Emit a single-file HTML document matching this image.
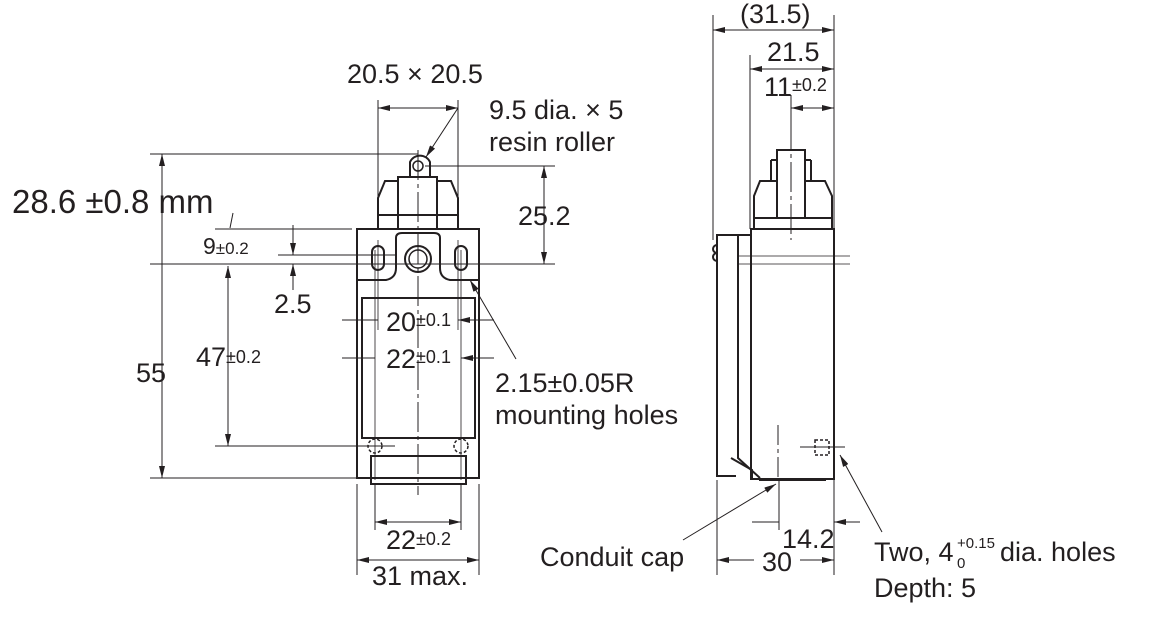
<!DOCTYPE html>
<html><head><meta charset="utf-8"><style>
html,body{margin:0;padding:0;background:#fff;}
svg{display:block;font-family:"Liberation Sans",Arial,sans-serif;}
text{fill:#231f20;}
</style></head><body>
<svg width="1153" height="629" viewBox="0 0 1153 629" xmlns="http://www.w3.org/2000/svg">
<defs>
<marker id="a" viewBox="0 0 12 6" refX="12" refY="3" markerWidth="12" markerHeight="6" orient="auto-start-reverse" markerUnits="userSpaceOnUse"><path d="M0,0L12,3L0,6z" fill="#231f20"/></marker>
</defs>
<g stroke="#231f20" stroke-width="1" fill="none">
<g stroke-width="2">
<rect x="357" y="229" width="122" height="249"/>
<rect x="362" y="298" width="113" height="140"/>
<path d="M371,478 V456 H466 V478"/>
<path d="M371,478 V484 H466 V478"/>
<path d="M378,229 V198 L385,181 H398 V177 H437 V181 H451 L458,198 V229"/>
<path d="M398,181 V229 M437,181 V229"/>
<path d="M378,215 H458"/>
<path d="M410,177 V162 A11,11 0 0 1 430,162 V177"/>
<path d="M357,280 H386 Q396,278 396,268 V238 Q396,233 402,233 H434 Q440,233 440,238 V268 Q440,278 450,280 H479"/>
<path d="M372,252 a6,6 0 0 1 12,0 v12 a6,6 0 0 1 -12,0z"/>
<path d="M455,252 a6,6 0 0 1 12,0 v12 a6,6 0 0 1 -12,0z"/>
</g>
<circle cx="418" cy="259" r="13" stroke-width="2"/>
<circle cx="418" cy="259" r="9" stroke-width="1.5"/>
<circle cx="418" cy="166" r="5" stroke-width="1.5"/>
<circle cx="375" cy="446" r="7" stroke-dasharray="3,2" stroke-width="1.5"/>
<circle cx="461" cy="446" r="7" stroke-dasharray="3,2" stroke-width="1.5"/>
<path d="M418,150 V495" stroke-dasharray="30,4,4,4"/>
<path d="M375,250 V480 M461,250 V480 M378,240 V330 M458,240 V330" stroke-width="0.8"/>
<path d="M150,154 H418 M150,264 H555 M150,478 H357 M425,166 H555 M215,229 H352 M278,255 H395 M215,446 H395"/>
<path d="M378,100 V200 M458,100 V200"/>
<path d="M357,484 V575 M479,484 V575 M375,484 V530 M461,484 V530"/>
<path d="M162,154 V264 M162,264 V478" marker-start="url(#a)" marker-end="url(#a)"/>
<path d="M544,166 V264" marker-start="url(#a)" marker-end="url(#a)"/>
<path d="M228,266 V446" marker-start="url(#a)" marker-end="url(#a)"/>
<path d="M293,225 V255" marker-end="url(#a)"/>
<path d="M293,290 V264" marker-end="url(#a)"/>
<path d="M378,108 H458" marker-start="url(#a)" marker-end="url(#a)"/>
<path d="M342,320 H378 M494,320 H458" marker-end="url(#a)"/>
<path d="M342,358 H375 M494,358 H461" marker-end="url(#a)"/>
<path d="M375,522 H461" marker-start="url(#a)" marker-end="url(#a)"/>
<path d="M357,560 H479" marker-start="url(#a)" marker-end="url(#a)"/>
<path d="M458,108 L426,157" marker-end="url(#a)"/>
<path d="M516,359 L470,280" marker-end="url(#a)"/>
<path d="M233,213 L230,228"/>
<g stroke-width="2">
<rect x="751" y="229" width="83" height="250"/>
<path d="M754,229 V196 L760,181 H777 V150 H805 V181 H825 L832,196 V229"/>
<path d="M754,218 H832 M777,181 V218 M805,181 V218"/>
<path d="M771,160 H777 M805,160 H811 M771,160 V181 M811,160 V181"/>
<path d="M751,235 H717 V476 L736,476 M738,235 V458 L760,478"/>
<path d="M731,458 L752,470 V478"/>
<path d="M759,480 H826"/>
<path d="M717,245 a4,4 0 0 0 0,8 a4,4 0 0 0 0,8"/>
<rect x="815" y="440" width="14" height="15" stroke-dasharray="3,2" stroke-width="1.5"/>
</g>
<path d="M791,120 V240" stroke-dasharray="30,4,4,4"/>
<path d="M778,425 V480" stroke-dasharray="20,4,4,4"/>
<path d="M738,256 H850 M738,264 H850" stroke-width="0.8"/>
<path d="M800,447 H845"/>
<path d="M713,15 V240 M750,55 V229 M834,15 V240 M791,95 V150"/>
<path d="M717,480 V575 M834,480 V575 M779,480 V530"/>
<path d="M713,30 H834" marker-start="url(#a)" marker-end="url(#a)"/>
<path d="M750,69 H834" marker-start="url(#a)" marker-end="url(#a)"/>
<path d="M791,108 H834" marker-start="url(#a)" marker-end="url(#a)"/>
<path d="M752,522 H779 M860,522 H834" marker-end="url(#a)"/>
<path d="M717,560 H754" marker-start="url(#a)"/>
<path d="M834,560 H800" marker-start="url(#a)"/>
<path d="M683,540 L776,484" marker-end="url(#a)"/>
<path d="M882,532 L840,455" marker-end="url(#a)"/>
</g>
<g font-size="27">
<text x="347" y="83">20.5 × 20.5</text>
<text x="489" y="119">9.5 dia. × 5</text>
<text x="489" y="151">resin roller</text>
<text x="12" y="213" font-size="33">28.6 ±0.8 mm</text>
<text x="518" y="225">25.2</text>
<text x="203" y="254" font-size="23">9<tspan font-size="17">±0.2</tspan></text>
<text x="274" y="313">2.5</text>
<text x="386" y="331">20<tspan font-size="18" dy="-5">±0.1</tspan></text>
<text x="386" y="368">22<tspan font-size="18" dy="-5">±0.1</tspan></text>
<text x="136" y="382">55</text>
<text x="196" y="366">47<tspan font-size="18" dy="-3">±0.2</tspan></text>
<text x="495" y="392">2.15±0.05R</text>
<text x="495" y="424">mounting holes</text>
<text x="386" y="549">22<tspan font-size="18" dy="-4">±0.2</tspan></text>
<text x="372" y="585">31 max.</text>
<text x="740" y="23">(31.5)</text>
<text x="767" y="61">21.5</text>
<text x="764" y="96">11<tspan font-size="18" dy="-5">±0.2</tspan></text>
<text x="540" y="566">Conduit cap</text>
<text x="782" y="548">14.2</text>
<text x="762" y="571">30</text>
<text x="874" y="561">Two, 4</text>
<text x="957" y="548" font-size="15">+0.15</text>
<text x="957" y="568" font-size="15">0</text>
<text x="1000" y="561">dia. holes</text>
<text x="874" y="597">Depth: 5</text>
</g>
</svg>
</body></html>
